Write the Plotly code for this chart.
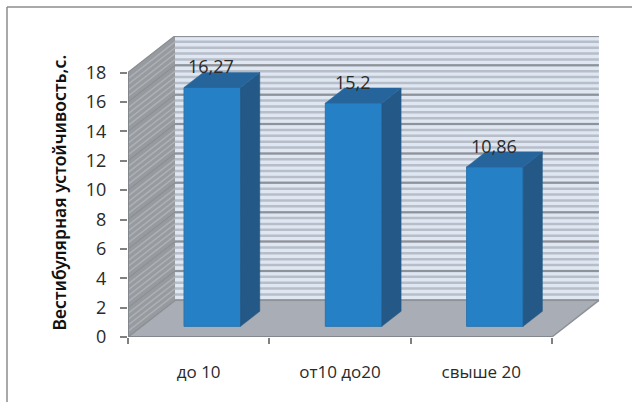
import plotly.graph_objects as go

# Chart data
categories = ["до 10", "от10 до20", "свыше 20"]
values = [16.27, 15.2, 10.86]
value_labels = ["16,27", "15,2", "10,86"]
y_ticks = list(range(0, 19, 2))
axis_title = "Вестибулярная устойчивость,с."

# Oblique projection of the box, in axis units
DEPTH_X = 0.3326
DEPTH_Y = 2.5
BAR_WIDTH = 0.4
BAR_FRONT = 0.29
BAR_BACK = 0.70
LEFT, RIGHT, TOP = 0.5, 3.5, 18
MINOR_STEP = 0.4

FRONT = "#2680c6"
SIDE = "#235887"
LID = "#26659c"
FRAME = "#8c8c8c"
TEXT = "#2a2a2a"


def project(x, y, depth):
    return x + depth * DEPTH_X, y + depth * DEPTH_Y


def polygon_path(points):
    return "M " + " L ".join(f"{x},{y}" for x, y in points) + " Z"


def face_points(corners):
    xs, ys = [], []
    for x, y, depth in corners:
        px, py = project(x, y, depth)
        xs.append(px)
        ys.append(py)
    return xs + [xs[0], None], ys + [ys[0], None]


shapes = []


def add_line(x0, y0, x1, y1, color, width, layer="below", ref="data"):
    shapes.append(dict(
        type="line", x0=x0, y0=y0, x1=x1, y1=y1, layer=layer,
        xref="x" if ref == "data" else "paper",
        yref="y" if ref == "data" else "paper",
        line=dict(color=color, width=width),
    ))


# Back wall, side wall and floor
shapes.append(dict(type="rect", xref="x", yref="y", layer="below",
                   x0=LEFT + DEPTH_X, x1=RIGHT + DEPTH_X, y0=DEPTH_Y, y1=TOP + DEPTH_Y,
                   fillcolor="#dfe7f3", line=dict(width=0)))
shapes.append(dict(type="path", xref="x", yref="y", layer="below",
                   path=polygon_path([(LEFT, 0), (LEFT + DEPTH_X, DEPTH_Y),
                                      (LEFT + DEPTH_X, TOP + DEPTH_Y), (LEFT, TOP)]),
                   fillcolor="#979ba0", line=dict(width=0)))
shapes.append(dict(type="path", xref="x", yref="y", layer="below",
                   path=polygon_path([(LEFT, 0), (RIGHT, 0), (RIGHT + DEPTH_X, DEPTH_Y),
                                      (LEFT + DEPTH_X, DEPTH_Y)]),
                   fillcolor="#a8adb6", line=dict(width=0)))

# Minor gridlines on the walls
steps = round(TOP / MINOR_STEP)
for i in range(steps + 1):
    level = i * MINOR_STEP
    add_line(LEFT + DEPTH_X, level + DEPTH_Y, RIGHT + DEPTH_X, level + DEPTH_Y, "#b8bec8", 2.5)
    add_line(LEFT, level, LEFT + DEPTH_X, level + DEPTH_Y, "#adb1b6", 1.5)

# Major gridlines on the walls
for tick in y_ticks:
    add_line(LEFT + DEPTH_X, tick + DEPTH_Y, RIGHT + DEPTH_X, tick + DEPTH_Y, "#8e9299", 2)
    add_line(LEFT, tick, LEFT + DEPTH_X, tick + DEPTH_Y, "#8b8f94", 1.5)

# Box edges and axis lines
add_line(LEFT, 0, RIGHT, 0, "#83878e", 2)
add_line(RIGHT, 0, RIGHT + DEPTH_X, DEPTH_Y, "#8d9197", 1.5)
add_line(LEFT, 0, LEFT, TOP, "#83878e", 2)

# Outer chart border, open towards the window edges
frame_x = (7 - 128) / 474
frame_y = 1 + (36 - 7) / 301
add_line(frame_x, (337 - 402) / 301, frame_x, frame_y, FRAME, 1.5, ref="paper")
add_line(frame_x, frame_y, 1 + 30 / 474, frame_y, FRAME, 1.5, ref="paper")

# Bar faces
x_positions = list(range(1, len(values) + 1))
front_x = [project(x, 0, BAR_FRONT)[0] for x in x_positions]
front_base = project(0, 0, BAR_FRONT)[1]

side_x, side_y, lid_x, lid_y = [], [], [], []
for x, value in zip(x_positions, values):
    left = x - BAR_WIDTH / 2
    right = x + BAR_WIDTH / 2
    xs, ys = face_points([(right, 0, BAR_FRONT), (right, 0, BAR_BACK),
                          (right, value, BAR_BACK), (right, value, BAR_FRONT)])
    side_x += xs
    side_y += ys
    xs, ys = face_points([(left, value, BAR_FRONT), (right, value, BAR_FRONT),
                          (right, value, BAR_BACK), (left, value, BAR_BACK)])
    lid_x += xs
    lid_y += ys

fig = go.Figure()
fig.add_trace(go.Bar(
    x=front_x, y=values, base=[front_base] * len(values), width=BAR_WIDTH,
    marker=dict(color=FRONT, line=dict(color="#2a74ad", width=1)),
    hoverinfo="skip",
))
for xs, ys, color in ((side_x, side_y, SIDE), (lid_x, lid_y, LID)):
    fig.add_trace(go.Scatter(
        x=xs, y=ys, mode="lines", fill="toself", fillcolor=color,
        line=dict(color=color, width=0.5), hoverinfo="skip",
    ))

annotations = [
    dict(x=x, y=value + front_base, text=label, showarrow=False, xref="x", yref="y",
         yanchor="middle", yshift=21, xshift=-1,
         font=dict(family="Open Sans", size=18, color=TEXT))
    for x, value, label in zip(front_x, values, value_labels)
]
annotations.append(dict(
    text=axis_title, xref="paper", yref="paper", x=(58 - 128) / 474, y=(337 - 192.5) / 301,
    textangle=-90, showarrow=False, xanchor="center", yanchor="middle",
    font=dict(family="Noto Sans", size=17.5, color="#111111", weight=600),
))

fig.update_layout(
    width=632, height=402, showlegend=False,
    paper_bgcolor="white", plot_bgcolor="white",
    margin=dict(l=128, r=30, t=36, b=65, pad=0),
    shapes=shapes, annotations=annotations,
    xaxis=dict(
        range=[LEFT, LEFT + 474 / 141.3],
        tickmode="array", tickvals=x_positions, ticktext=categories,
        ticks="", showgrid=False, zeroline=False, showline=False,
        ticklabelstandoff=23,
        tickfont=dict(family="Open Sans", size=17, color=TEXT),
        minor=dict(tickmode="array", tickvals=[0.5, 1.5, 2.5, 3.5],
                   ticks="outside", ticklen=6, tickcolor="#808080", tickwidth=1.5,
                   showgrid=False),
    ),
    yaxis=dict(
        range=[0, 20.5],
        tickmode="array", tickvals=y_ticks, ticktext=[str(t) for t in y_ticks],
        ticks="outside", ticklen=7, tickcolor="#808080", tickwidth=1.5,
        showgrid=False, zeroline=False, showline=False,
        ticklabelstandoff=10,
        tickfont=dict(family="Open Sans", size=18, color=TEXT),
    ),
)

fig.write_html("out.html", config=dict(displayModeBar=False))
